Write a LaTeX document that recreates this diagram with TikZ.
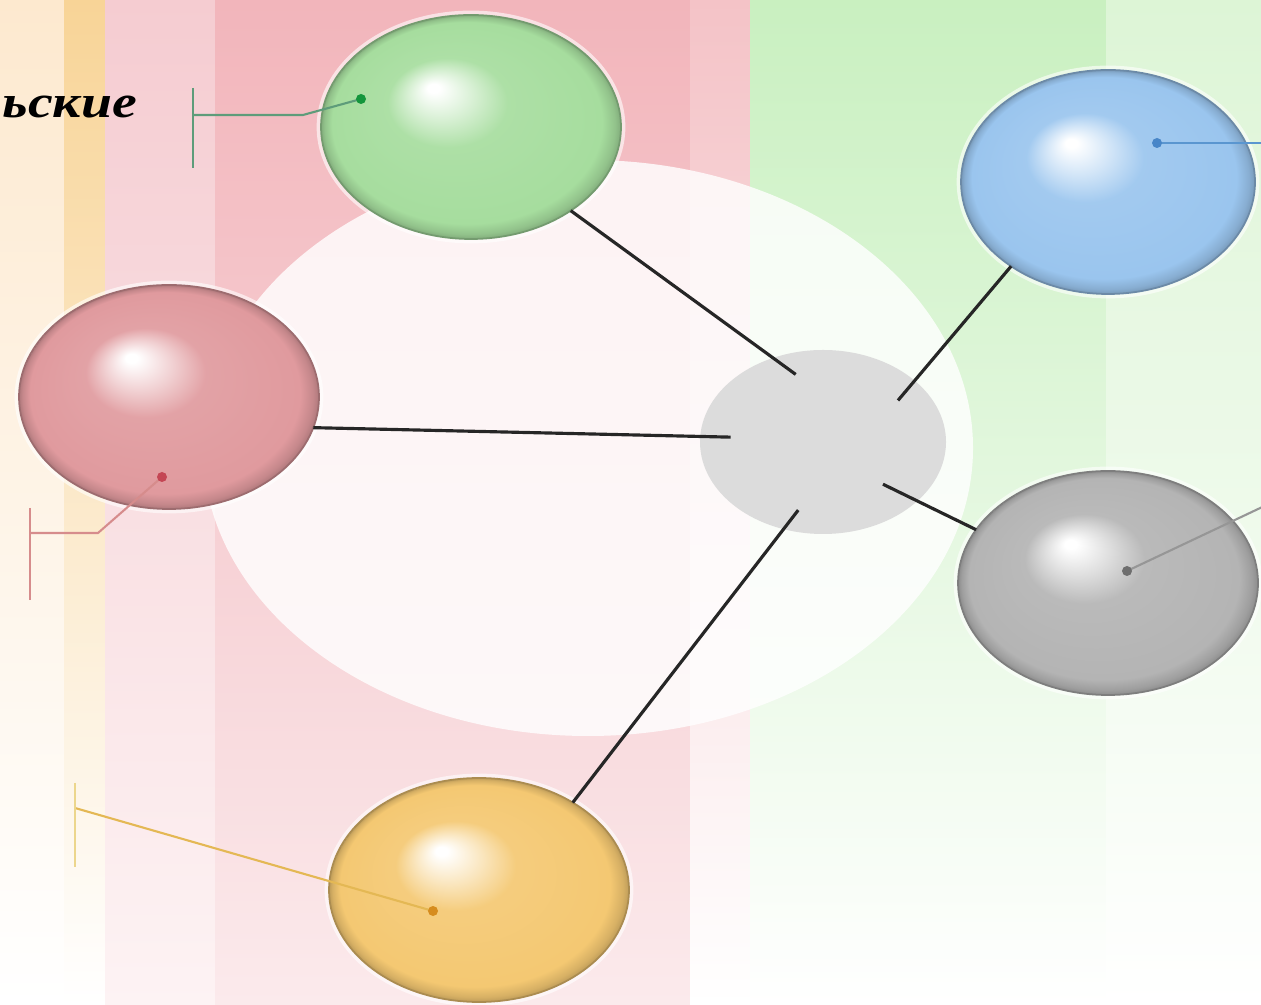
\documentclass[tikz,border=0pt]{standalone}
\usepackage{fontspec}
\newfontfamily\captfont[FakeStretch=1.22]{Liberation Serif}
\usetikzlibrary{shapes.geometric}
\definecolor{creamtop}{HTML}{FDE9CF}\definecolor{creammid}{HTML}{FEF3E3}
\definecolor{ochretop}{HTML}{F8D497}\definecolor{ochremid}{HTML}{FBE6C2}
\definecolor{rosetop}{HTML}{F5CCD1}\definecolor{rosemid}{HTML}{F8DCDF}\definecolor{rosebot}{HTML}{FDF3F4}
\definecolor{pinktop}{HTML}{F2B5BB}\definecolor{pinkmid}{HTML}{F5C9CD}\definecolor{pinkbot}{HTML}{FBEAEC}
\definecolor{pinkedge}{HTML}{F4C3C7}\definecolor{pinkedgemid}{HTML}{F7D6D9}
\definecolor{mintop}{HTML}{C9F0C0}\definecolor{mintmid}{HTML}{E0F7DA}
\definecolor{palemint}{HTML}{DDF5D6}\definecolor{palemintmid}{HTML}{EEFAEB}
\definecolor{ballgreen}{HTML}{A6DD9E}
\definecolor{ballred}{HTML}{E09A9E}
\definecolor{ballblue}{HTML}{9AC5EE}
\definecolor{ballgrey}{HTML}{B4B4B4}
\definecolor{ballorange}{HTML}{F4C872}
\definecolor{coregrey}{HTML}{DCDCDC}
\definecolor{leadgreen}{HTML}{5E9C7A}\definecolor{dotgreen}{HTML}{14963C}
\definecolor{leadred}{HTML}{D68C8C}\definecolor{dotred}{HTML}{C44654}
\definecolor{leadorange}{HTML}{E4B854}\definecolor{barorange}{HTML}{ECD68C}\definecolor{dotorange}{HTML}{D68C1E}
\definecolor{leadblue}{HTML}{5A96D0}\definecolor{dotblue}{HTML}{4886C8}
\definecolor{leadgrey}{HTML}{969696}\definecolor{dotgrey}{HTML}{6E6E6E}
\colorlet{glosscol}{gray}
\pgfdeclareradialshading[glosscol]{gloss}{\pgfpoint{-6.5bp}{9bp}}{%
  color(0bp)=(white); color(1bp)=(white); color(5.5bp)=(glosscol!45!white);
  color(10bp)=(glosscol!92!white); color(22.5bp)=(glosscol); color(24.2bp)=(glosscol!88!black);
  color(25bp)=(glosscol!78!black)}
\tikzset{ball/.style={ellipse, minimum width=30mm, minimum height=22.4mm, inner sep=0pt, outer sep=0pt,
    /utils/exec={\colorlet{glosscol}{#1}}, shading=gloss, draw=#1!70!black, line width=0.5pt,
    preaction={draw=white, line width=2.5pt, opacity=0.6}}}
\tikzset{core/.style={ellipse, minimum width=24.6mm, minimum height=18.4mm, inner sep=0pt, fill=coregrey}}
\tikzset{hub/.style={ellipse, minimum width=18.4mm, minimum height=14mm, inner sep=0pt}}
\tikzset{link/.style={draw=black!85, line width=0.9pt}}
\tikzset{lead/.style={line width=0.6pt}}
\tikzset{capt/.style={font=\captfont\bfseries\itshape\fontsize{13}{15}\selectfont, inner sep=0pt}}

\begin{document}
\begin{tikzpicture}[x=0.1mm, y=-0.1mm]
	\useasboundingbox (0,0) rectangle (1261,1005);
	% background strips
	\fill[top color=creamtop, middle color=creammid, bottom color=white] (0,0) rectangle (64,1005);
	\fill[top color=ochretop, middle color=ochremid, bottom color=white] (64,0) rectangle (105,1005);
	\fill[top color=rosetop, middle color=rosemid, bottom color=rosebot] (105,0) rectangle (215,1005);
	\fill[top color=pinktop, middle color=pinkmid, bottom color=pinkbot] (215,0) rectangle (690,1005);
	\fill[top color=pinkedge, middle color=pinkedgemid, bottom color=white] (690,0) rectangle (750,1005);
	\fill[top color=mintop, middle color=mintmid, bottom color=white] (750,0) rectangle (1106,1005);
	\fill[top color=palemint, middle color=palemintmid, bottom color=white] (1106,0) rectangle (1261,1005);
	\fill[white, opacity=0.82] (588,448) ellipse [x radius=385, y radius=288];

	\node[core] (core) at (823,442) {};
	\node[hub] (hub) at (core.center) {};

	\node[ball=ballgreen] (green) at (471,127) {};
	\node[ball=ballred] (red) at (169,397) {};
	\node[ball=ballblue, minimum width=29.4mm] (blue) at (1108,182) {};
	\node[ball=ballgrey] (grey) at (1108,583) {};
	\node[ball=ballorange] (orange) at (479,890) {};

	\draw[link] (green.-40) -- (hub.112);
	\draw[link] (red.-12) -- (hub.177);
	\draw[link] (blue.-139) -- (hub.29);
	\draw[link, shorten >=-3pt] (grey.158) -- (hub.-34);
	\draw[link] (orange.43) -- (hub.250);

	% leaders
	\coordinate (gdot) at (361,99);
	\coordinate (gbar) at (193,115);
	\draw[lead, leadgreen] (gdot) -- (303,115) -- (gbar);
	\draw[lead, leadgreen] (gbar) ++(0,-27) -- ++(0,80);
	\fill[dotgreen] (gdot) circle[radius=5];

	\coordinate (rdot) at (162,477);
	\coordinate (rbar) at (30,533);
	\draw[lead, leadred] (rdot) -- (98,533) -- (rbar);
	\draw[lead, leadred] (rbar) ++(0,-25) -- ++(0,92);
	\fill[dotred] (rdot) circle[radius=5];

	\coordinate (odot) at (433,911);
	\coordinate (obar) at (75,808);
	\draw[lead, leadorange] (odot) -- (obar);
	\draw[lead, barorange] (obar) ++(0,-25) -- ++(0,84);
	\fill[dotorange] (odot) circle[radius=5];

	\coordinate (bdot) at (1157,143);
	\coordinate (bend) at (1275,143);
	\draw[lead, leadblue] (bdot) -- (bend);
	\fill[dotblue] (bdot) circle[radius=5];

	\coordinate (ydot) at (1127,571);
	\coordinate (yend) at (1275,501);
	\draw[lead, leadgrey] (ydot) -- (yend);
	\fill[dotgrey] (ydot) circle[radius=5];

	\node[capt, anchor=base west] (tag) at (2,118) {ьские};
\end{tikzpicture}
\end{document}
